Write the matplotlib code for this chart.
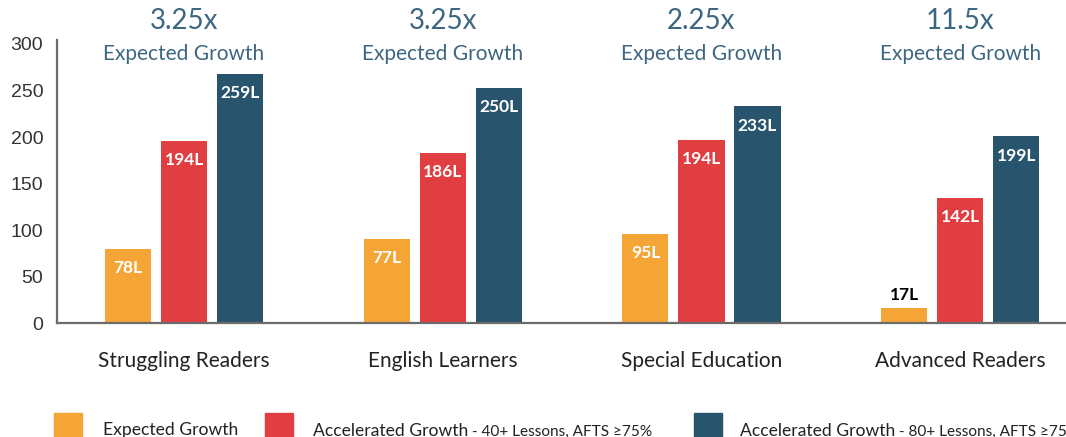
import matplotlib
matplotlib.use('Agg')
import matplotlib.pyplot as plt
from matplotlib.patches import Rectangle
import numpy as np

plt.rcParams['font.family'] = ['Lato', 'DejaVu Sans']

# Данные
categories = ['Struggling Readers', 'English Learners', 'Special Education', 'Advanced Readers']
multipliers = ['3.25x', '3.25x', '2.25x', '11.5x']
series_names = ['Expected Growth', 'Accelerated Growth', 'Accelerated Growth']
series_notes = ['', ' - 40+ Lessons, AFTS \u226575%', ' - 80+ Lessons, AFTS \u226575%']
# высоты столбцов (как на картинке) и подписи
expected = [80, 91, 96, 17]
accel_40 = [196, 183, 197, 135]
accel_80 = [268, 253, 233, 201]
expected_lbl = ['78L', '77L', '95L', '17L']
accel_40_lbl = ['194L', '186L', '194L', '142L']
accel_80_lbl = ['259L', '250L', '233L', '199L']
yticks = [0, 50, 100, 150, 200, 250, 300]

colors = ['#F5A536', '#E03E40', '#29546D']
title_col = '#3D6780'

fig = plt.figure(figsize=(10.66, 4.37), dpi=100)
ax = fig.add_axes([0.0535, 0.260, 0.9465, 0.648])

x = np.arange(len(categories))
w = 0.178
step = 0.2165
series = [expected, accel_40, accel_80]
labels = [expected_lbl, accel_40_lbl, accel_80_lbl]
for i, (vals, lbls) in enumerate(zip(series, labels)):
    pos = x + (i - 1) * step
    ax.bar(pos, vals, width=w, color=colors[i], zorder=2)
    for px, v, t in zip(pos, vals, lbls):
        if v < 40:
            ax.annotate(t, (px, v), xytext=(0, 9), textcoords='offset points',
                        ha='center', va='center', fontsize=12.5, fontweight='bold', color='black')
        else:
            ax.annotate(t, (px, v), xytext=(0, -14), textcoords='offset points',
                        ha='center', va='center', fontsize=12.5, fontweight='bold', color='white')

# Подписи сверху
for xi, m in zip(x, multipliers):
    ax.text(xi, 325, m, ha='center', va='center', fontsize=20, color=title_col, clip_on=False)
    ax.text(xi, 289, 'Expected Growth', ha='center', va='center', fontsize=15, color=title_col, clip_on=False)

ax.set_xlim(-0.491, 3.409)
ax.set_ylim(0, 304)
ax.set_yticks(yticks)
ax.set_yticklabels([str(t) for t in yticks], family=['Liberation Sans'], fontsize=14, color='#333333')
ax.set_xticks(x)
ax.set_xticklabels(categories, fontsize=15, color='#222222')
ax.tick_params(axis='y', length=0, pad=10)
ax.tick_params(axis='x', length=0, pad=20)
for s in ['top', 'right']:
    ax.spines[s].set_visible(False)
for s in ['left', 'bottom']:
    ax.spines[s].set_color('#6b6b6b')
    ax.spines[s].set_linewidth(1.6)

# Легенда вручную
W, H = 1066, 437
sq_x = [54, 265, 694]
txt_x = [103, 313, 740]
renderer = fig.canvas.get_renderer()
for i in range(3):
    fig.add_artist(Rectangle((sq_x[i] / W, 0), 28 / W, (437 - 413) / H,
                             transform=fig.transFigure, color=colors[i]))
    t = fig.text(txt_x[i] / W, 1.5 / H, series_names[i], fontsize=12.6, color='#222222',
                 ha='left', va='baseline')
    if series_notes[i]:
        bb = t.get_window_extent(renderer)
        fig.text(bb.x1 / W, 1.5 / H, series_notes[i], fontsize=11.1, color='#222222',
                 ha='left', va='baseline')

fig.savefig('out.png', dpi=100, facecolor='white')
